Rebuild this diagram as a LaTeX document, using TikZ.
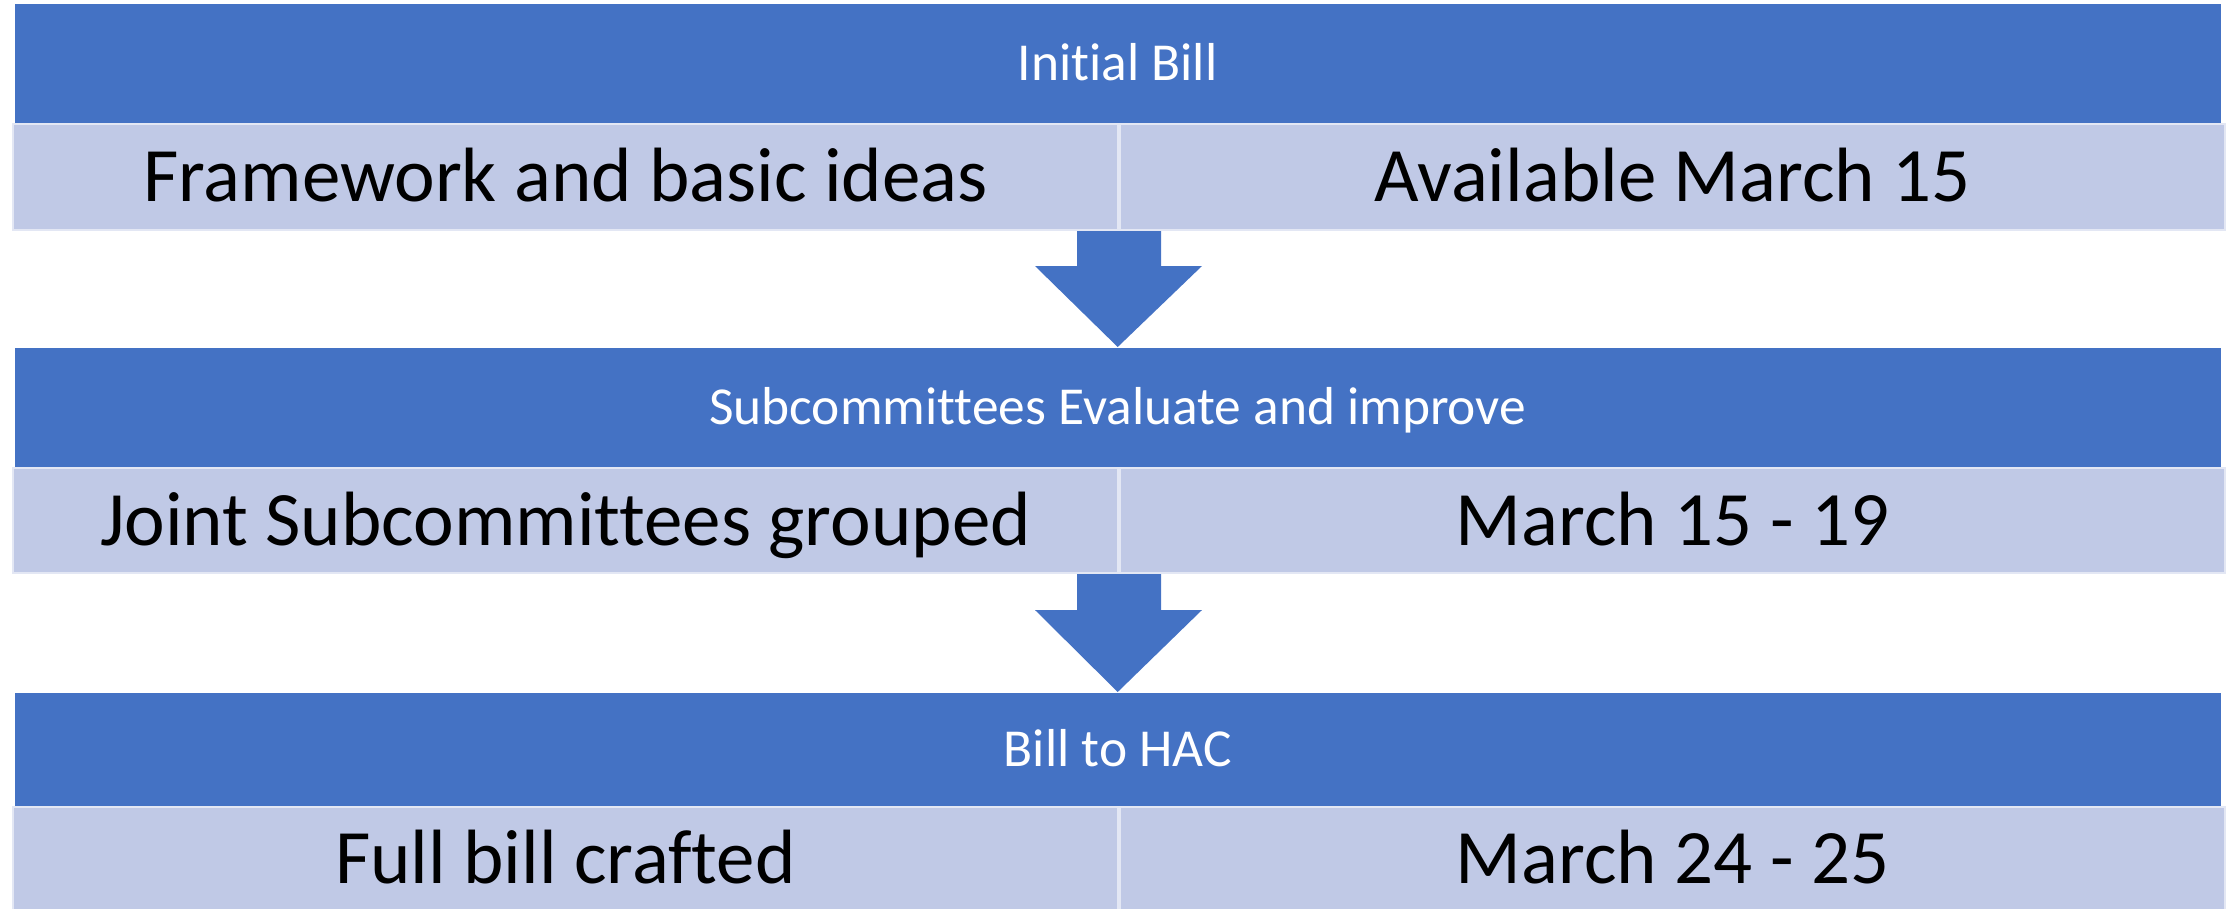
\documentclass[tikz,border=0pt]{standalone}
\usepackage{fontspec}
\setmainfont[Ligatures=NoCommon]{Carlito}
\usetikzlibrary{calc}

\definecolor{barblue}{HTML}{4472C4}
\definecolor{celllight}{HTML}{C0C9E6}

\tikzset{
  headbar/.style={fill=barblue, text=white, inner sep=0pt, anchor=north west,
    minimum width=220.6mm, text height=9.8pt, text depth=0pt,
    font=\fontsize{15.2}{18}\selectfont},
  cellbox/.style={fill=celllight, draw=white!55!celllight, line width=.2mm,
    inner sep=0pt, anchor=north west, minimum width=110.5mm,
    text height=14.1pt, text depth=0pt,
    font=\fontsize{21.9}{26}\selectfont},
  downarrow/.style={fill=barblue}
}

\begin{document}
\begin{tikzpicture}[x=0.1mm, y=-0.1mm]
  \useasboundingbox (0, 0) rectangle (2233, 908);

  %%t1
  \node[headbar, minimum height=12mm] (h1) at (14, 3) {Initial Bill};
  \node[cellbox, minimum height=10.6mm] (r1a) at (12, 123) {Framework and basic ideas};
  \node[cellbox, minimum height=10.6mm] (r1b) at (r1a.north east) {Available March 15};

  %%t2
  \node[headbar, minimum height=12mm] (h2) at (14, 347) {Subcommittees Evaluate and improve};
  \node[cellbox, minimum height=10.5mm] (r2a) at (12, 467) {Joint Subcommittees grouped};
  \node[cellbox, minimum height=10.5mm] (r2b) at (r2a.north east) {March 15 - 19};

  %%t3
  \node[headbar, minimum height=11.4mm] (h3) at (14, 692) {Bill to HAC};
  \node[cellbox, minimum height=10.4mm] (r3a) at (12, 806) {Full bill crafted};
  \node[cellbox, minimum height=10.4mm] (r3b) at (r3a.north east) {March 24 - 25};

  %% arrows
  \fill[downarrow] ($(r1a.south east)+(-42, 0)$) -- ($(r1a.south east)+(42, 0)$)
    -- ($(r1a.south east)+(42, 35)$) -- ($(r1a.south east)+(83, 35)$)
    -- (h2.north)
    -- ($(r1a.south east)+(-84, 35)$) -- ($(r1a.south east)+(-42, 35)$) -- cycle;

  \fill[downarrow] ($(r2a.south east)+(-42, 0)$) -- ($(r2a.south east)+(42, 0)$)
    -- ($(r2a.south east)+(42, 36)$) -- ($(r2a.south east)+(83, 36)$)
    -- (h3.north)
    -- ($(r2a.south east)+(-84, 36)$) -- ($(r2a.south east)+(-42, 36)$) -- cycle;

\end{tikzpicture}
\end{document}
